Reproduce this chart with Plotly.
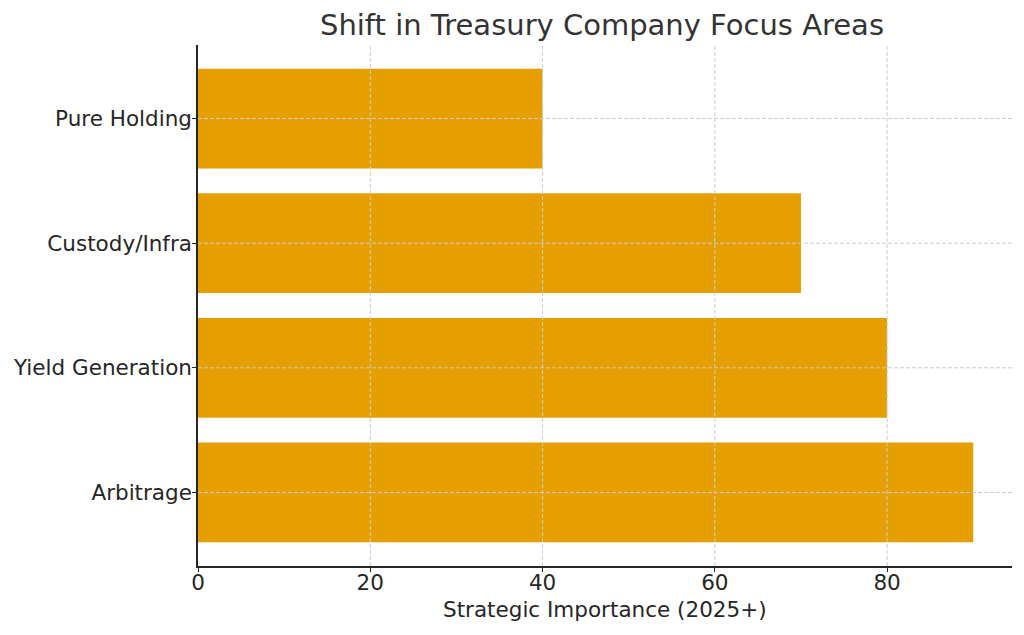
import plotly.graph_objects as go

categories = ["Arbitrage", "Yield Generation", "Custody/Infra", "Pure Holding"]
values = [90, 80, 70, 40]
x_ticks = [0, 20, 40, 60, 80]
title_text = "Shift in Treasury Company Focus Areas"
x_label = "Strategic Importance (2025+)"

FONT = "DejaVu Sans"
TXT = "#262626"
W, H = 1016, 627

fig = go.Figure()
fig.add_trace(go.Bar(
    y=categories, x=values, orientation="h", width=0.8,
    marker=dict(color="#E69F00", line=dict(width=0)),
))

shapes = []
for xv in x_ticks[1:]:
    shapes.append(dict(type="line", xref="x", yref="paper", x0=xv, x1=xv, y0=0, y1=1,
                       line=dict(color="#cccccc", width=1, dash="4px,2px"), layer="above"))
for c in categories:
    shapes.append(dict(type="line", xref="paper", yref="y", x0=0, x1=1, y0=c, y1=c,
                       line=dict(color="#cccccc", width=1, dash="4px,2px"), layer="above"))

fig.update_layout(
    width=W, height=H,
    margin=dict(l=190, r=12, t=37, b=69, autoexpand=False),
    paper_bgcolor="white", plot_bgcolor="white",
    font=dict(family=FONT, color=TXT, size=21.5),
    title=dict(text=title_text, x=594 / W, xanchor="center",
               y=1 - 17 / H, yref="container", yanchor="middle",
               font=dict(size=29, color="#333333", family=FONT)),
    showlegend=False,
    shapes=shapes,
    bargap=0.2,
    annotations=[dict(text=x_label, xref="paper", yref="paper", x=0.5, y=0,
                      xanchor="center", yanchor="middle", yshift=-43, showarrow=False,
                      font=dict(size=21.5, color=TXT, family=FONT))],
)
fig.update_xaxes(
    range=[0, 94.5], tickvals=x_ticks, showgrid=False, zeroline=False,
    showline=True, linecolor=TXT, linewidth=1.5, ticks="outside", ticklen=4,
    tickcolor=TXT, tickwidth=1.2, tickfont=dict(size=21.5, color=TXT),
    ticklabelstandoff=-8, automargin=False,
)
fig.update_yaxes(
    range=[-0.59, 3.59], categoryorder="array", categoryarray=categories,
    showgrid=False, zeroline=False,
    showline=True, linecolor=TXT, linewidth=1.5, ticks="outside", ticklen=4,
    tickcolor=TXT, tickwidth=1.2, tickfont=dict(size=21.5, color=TXT),
    ticklabelstandoff=-4, automargin=False,
)

fig.write_html("out.html")
